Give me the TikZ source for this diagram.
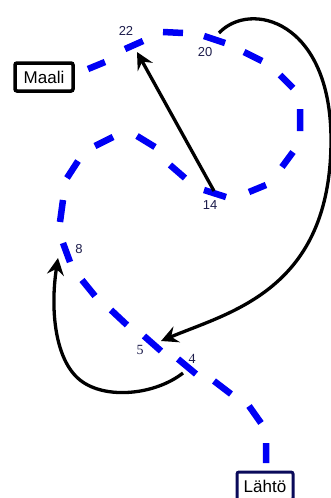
\documentclass[tikz,border=0pt]{standalone}
\usepackage{fontspec}
\setmainfont{Liberation Sans}
\newfontfamily\numserif{Liberation Serif}
\usetikzlibrary{arrows.meta}
\definecolor{route}{RGB}{0,0,245}
\definecolor{navy}{RGB}{28,28,75}
\definecolor{boxnavy}{RGB}{10,10,90}
\tikzset{
  routedash/.style={route, line width=6.5pt, line cap=butt},
  jump/.style={black, line width=3.3pt, -{Stealth[length=17pt,width=17pt,inset=6pt]}},
  num/.style={text=navy, font=\fontsize{13}{13}\selectfont, inner sep=0pt},
  numserif/.style={text=navy, font=\numserif\fontsize{14}{14}\selectfont, inner sep=0pt},
  endbox/.style={draw, line width=3.5pt, rounded corners=2pt, fill=white,
    font=\fontsize{17}{17}\selectfont, inner sep=0pt, minimum height=28pt}
}
\begin{document}
\begin{tikzpicture}[x=1pt,y=-1pt]
\useasboundingbox (0,0) rectangle (331,498);
% route (dashed, drawn dash by dash)
\draw[routedash]
  (266,443) -- (266,463)
  (249,406) -- (261,423)
  (214,381) -- (231,394)
  (178,359) -- (196,374)
  (144,336) -- (161,351)
  (111,310) -- (127,325)
  (82,280) -- (95,296)
  (63,243) -- (70,262)
  (63,200) -- (60,222)
  (67,178) -- (78,161)
  (95,146) -- (113,137)
  (137,136) -- (155,147)
  (170,165) -- (185,178)
  (204,190) -- (226,197)
  (249,192) -- (266,185)
  (282,167) -- (293,152)
  (300,109) -- (300,131)
  (280,75) -- (293,88)
  (244,52) -- (262,61)
  (204,36) -- (225,43)
  (163,32) -- (183,33)
  (125,49) -- (143,41)
  (88,69) -- (105,62);
% boxes
\node[endbox, minimum width=58pt] (maali) at (44,77) {Maali};
\node[endbox, draw=boxnavy, line width=3pt, minimum width=56pt] (lahto) at (265,486) {Lähtö};
% labels
\node[num] (n22) at (126,31) {22};
\node[num] (n20) at (205,52) {20};
\node[num] (n14) at (210,205) {14};
\node[num] (n8) at (79,249) {8};
\node[numserif] (n5) at (140,350) {5};
\node[numserif] (n4) at (192,359) {4};
% jump points
\coordinate (s14) at (214,191);
\coordinate (t22) at (137,52);
\coordinate (s20) at (219,33);
\coordinate (t5) at (161,341);
\coordinate (s4) at (183,373);
\coordinate (t8) at (58,258);
% arrows
\draw[jump] (s14) -- (t22);
\draw[jump] (s20) .. controls (250,0) and (331,20) .. (331,140)
  .. controls (331,290) and (230,312) .. (t5);
\draw[jump] (s4) .. controls (155,395) and (105,400) .. (80,380)
  .. controls (55,360) and (50,310) .. (t8);
\end{tikzpicture}
\end{document}
